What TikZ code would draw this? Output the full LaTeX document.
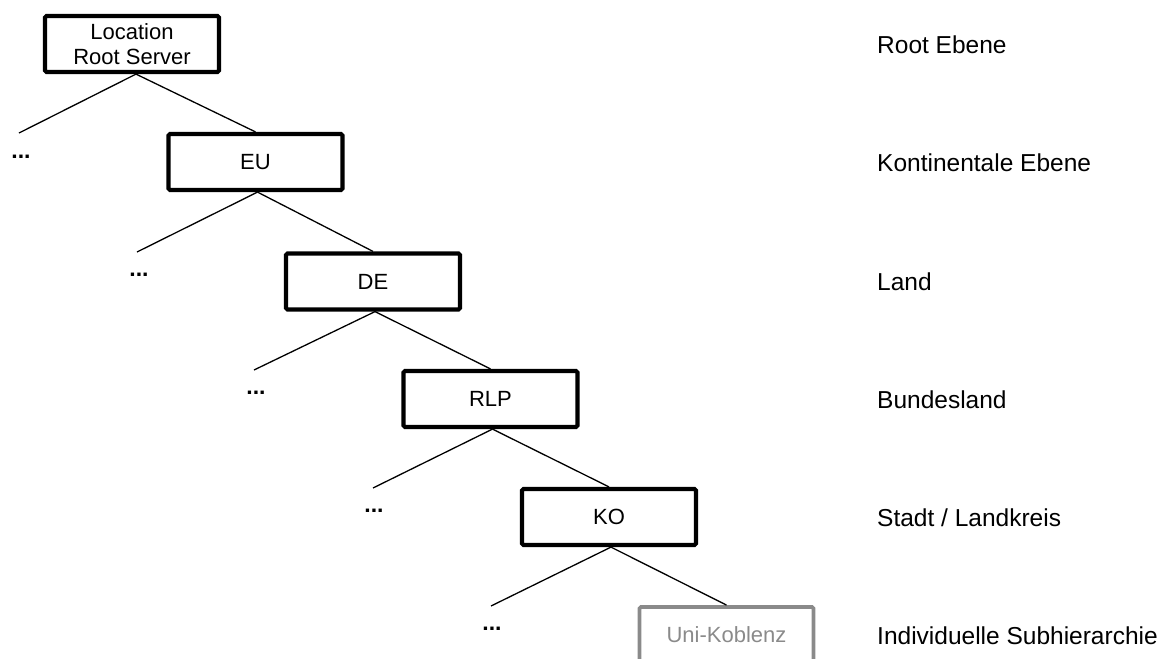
\documentclass[tikz,border=0pt]{standalone}
\usepackage{fontspec}
\setmainfont{Liberation Sans}
\usetikzlibrary{calc}
\definecolor{subgray}{HTML}{8A8A8A}
\begin{document}
\begin{tikzpicture}[x=1pt,y=-1pt,
  level/.style={draw=black, line width=4.2pt, rounded corners=1.5pt,
    minimum width=174pt, minimum height=56pt, inner sep=0pt,
    align=center, font=\fontsize{22}{25}\selectfont},
  sublevel/.style={level, draw=subgray, text=subgray, line width=3.8pt},
  edge/.style={line width=1.3pt},
  more/.style={anchor=base, font=\fontsize{23}{25}\selectfont\bfseries, inner sep=0pt},
  tier/.style={anchor=base west, inner sep=0pt, font=\fontsize{24.5}{28}\selectfont}]
\useasboundingbox (0,0) rectangle (1168,659);
\clip (0,0) rectangle (1168,659);

% hierarchy boxes
\node[level] (root) at (132,44) {Location\\Root Server};
\node[level] (eu)   at (255.5,162) {EU};
\node[level] (de)   at (373,281.5) {DE};
\node[level] (rlp)  at (490.5,399) {RLP};
\node[level] (ko)   at (609,517) {KO};
\node[sublevel] (uni) at (726.5,635) {Uni-Koblenz};

% branch points just right of each parent's bottom centre
\coordinate (a1) at ($(root.south)+(4,0)$);
\coordinate (a2) at ($(eu.south)+(2,0)$);
\coordinate (a3) at ($(de.south)+(2,0)$);
\coordinate (a4) at ($(rlp.south)+(2,0)$);
\coordinate (a5) at ($(ko.south)+(2,0)$);

% open ends of the sibling branches
\coordinate (l1) at (19,133);
\coordinate (l2) at (137,252);
\coordinate (l3) at (254,370);
\coordinate (l4) at (373,488);
\coordinate (l5) at (491,606);

\draw[edge] (a1) -- (l1); \draw[edge] (a1) -- (eu.north);
\draw[edge] (a2) -- (l2); \draw[edge] (a2) -- (de.north);
\draw[edge] (a3) -- (l3); \draw[edge] (a3) -- (rlp.north);
\draw[edge] (a4) -- (l4); \draw[edge] (a4) -- (ko.north);
\draw[edge] (a5) -- (l5); \draw[edge] (a5) -- (uni.north);

% further siblings
\node[more] (m1) at (21,158) {...};
\node[more] (m2) at (139,276) {...};
\node[more] (m3) at (256,394) {...};
\node[more] (m4) at (374,512) {...};
\node[more] (m5) at (492,630) {...};

% level names
\node[tier] (t1) at (877,53) {Root Ebene};
\node[tier] (t2) at (877,171) {Kontinentale Ebene};
\node[tier] (t3) at (877,290) {Land};
\node[tier] (t4) at (877,408) {Bundesland};
\node[tier] (t5) at (877,526) {Stadt / Landkreis};
\node[tier] (t6) at (877,644) {Individuelle Subhierarchie};
\end{tikzpicture}
\end{document}
